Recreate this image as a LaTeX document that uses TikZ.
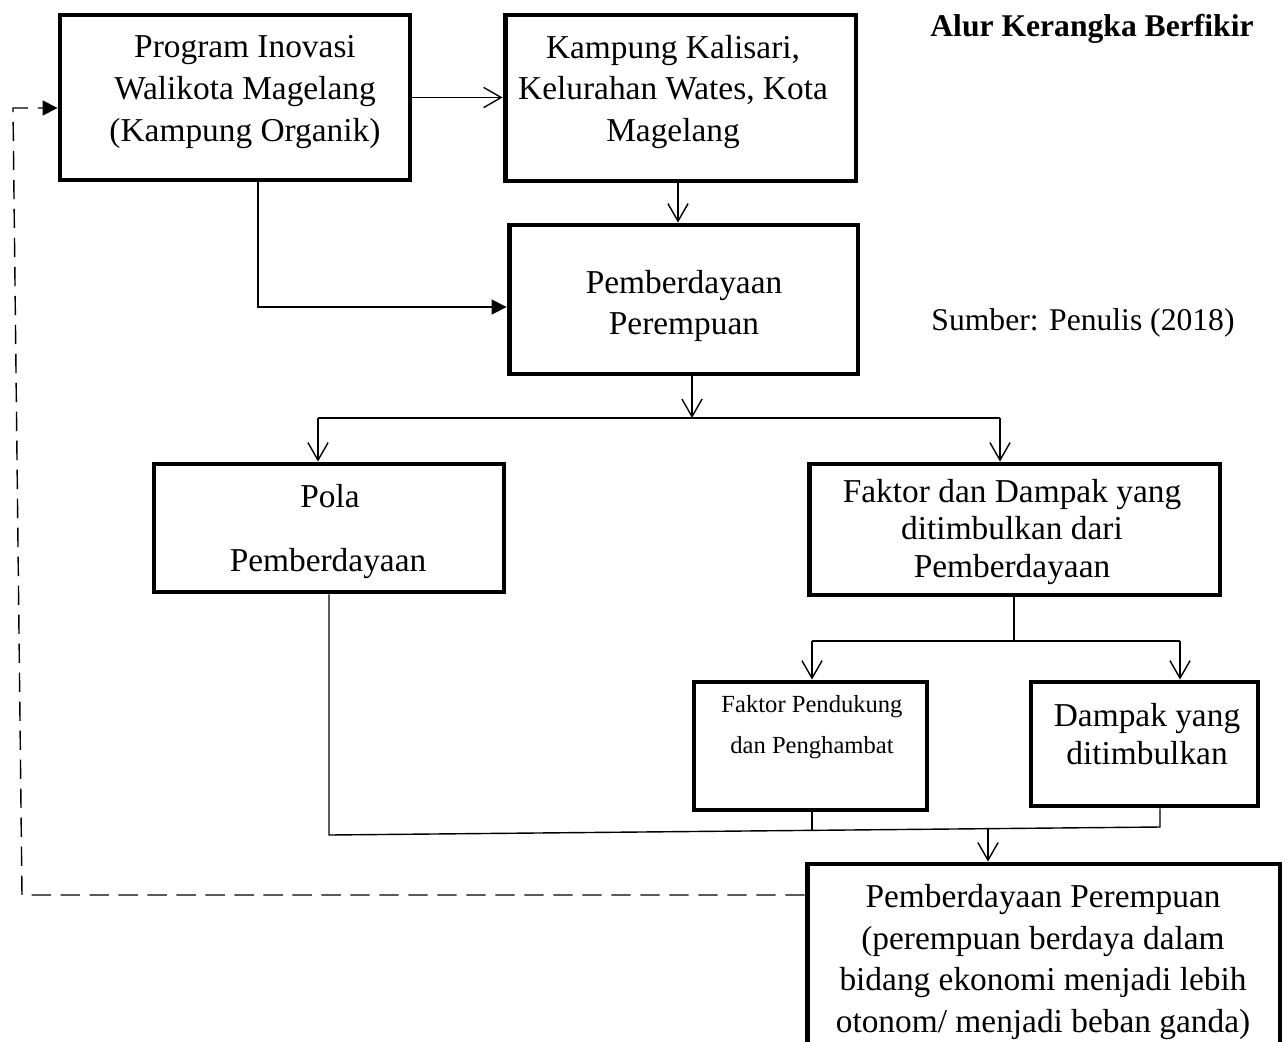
\documentclass[tikz,border=0pt]{standalone}
\usepackage{fontspec}
\setmainfont{Liberation Serif}
\usetikzlibrary{arrows.meta}

\begin{document}
\begin{tikzpicture}[
  x=0.02cm, y=-0.02cm,
  box/.style={draw, line width=2.8pt, inner sep=0pt},
  conn/.style={line width=0.8pt},
  openhead/.style={-{Straight Barb[length=10pt,width=11.5pt,line width=0.8pt]}},
  solidhead/.style={-{Triangle[length=8.5pt,width=8.5pt]}},
  txt/.style={align=center, inner sep=0pt, font=\fontsize{19}{23.8}\selectfont},
  smalltxt/.style={align=center, inner sep=0pt, font=\fontsize{14}{23.2}\selectfont},
  dashline/.style={dash pattern=on 11pt off 5.5pt},
]
\useasboundingbox (0,0) rectangle (1287,1041);

% boxes
\node[box, minimum width=7.00cm, minimum height=3.30cm] (b1) at (235,97.5) {};
\node[box, minimum width=7.02cm, minimum height=3.32cm] (b2) at (680.5,98) {};
\node[box, minimum width=6.98cm, minimum height=2.98cm] (b3) at (683.5,299.5) {};
\node[box, minimum width=7.00cm, minimum height=2.56cm] (b4) at (329,528) {};
\node[box, minimum width=8.22cm, minimum height=2.62cm] (b5) at (1014.5,529.5) {};
\node[box, minimum width=4.66cm, minimum height=2.56cm] (b6) at (810.5,746) {};
\node[box, minimum width=4.54cm, minimum height=2.48cm] (b7) at (1144.5,744) {};
\node[box, minimum width=9.46cm, minimum height=3.68cm] (b8) at (1043.5,956) {};

% box texts
\node[txt] (t1) at (245,92) {Program Inovasi\\Walikota Magelang\\(Kampung Organik)};
\node[txt] (t2) at (673,92) {Kampung Kalisari,\\Kelurahan Wates, Kota\\Magelang};
\node[txt] (t3) at (684,306) {Pemberdayaan\\Perempuan};
\node[txt] (t4a) at (330,496) {Pola};
\node[txt] (t4b) at (328,564) {Pemberdayaan};
\node[txt, font=\fontsize{19}{21.5}\selectfont] (t5) at (1012,532) {Faktor dan Dampak yang\\ditimbulkan dari\\Pemberdayaan};
\node[smalltxt] (t6) at (812,727) {Faktor Pendukung\\dan Penghambat};
\node[txt, font=\fontsize{19}{21.5}\selectfont] (t7) at (1147,734) {Dampak yang\\ditimbulkan};
\node[txt] (t8) at (1043,962) {Pemberdayaan Perempuan\\(perempuan berdaya dalam\\bidang ekonomi menjadi lebih\\otonom/ menjadi beban ganda)};

% free labels
\node[txt, font=\fontsize{18}{22}\selectfont\bfseries] (title) at (1092,29) {Alur Kerangka Berfikir};
\node[txt, font=\fontsize{18}{22}\selectfont] (src) at (1083,323) {Sumber: Penulis (2018)};

% bend and junction points
\coordinate (j1) at (258,307);
\coordinate (s3) at (692,0);
\coordinate (h1) at (692,418);
\coordinate (hL) at (318,418);
\coordinate (hR) at (1000,418);
\coordinate (g) at (1014,641);
\coordinate (gL) at (812,641);
\coordinate (gR) at (1180,641);
\coordinate (m1) at (329,835);
\coordinate (m2) at (1160,827);
\coordinate (k6) at (812,830);
\coordinate (k8) at (988,829);
\coordinate (d1) at (22,895);
\coordinate (d2) at (13,108);

% connectors
\draw[conn, openhead] (b1.east) -- (b1.east -| b2.west);
\draw[conn, openhead] (b2.south -| 678,0) -- (b3.north -| 678,0);
\draw[conn, solidhead] (b1.south -| j1) -- (j1) -- (j1 -| b3.west);
\draw[conn, openhead] (b3.south -| s3) -- (h1);
\draw[conn] (hL) -- (hR);
\draw[conn, openhead] (hL) -- (hL |- b4.north);
\draw[conn, openhead] (hR) -- (hR |- b5.north);
\draw[conn] (b5.south -| g) -- (g);
\draw[conn] (gL) -- (gR);
\draw[conn, openhead] (gL) -- (gL |- b6.north);
\draw[conn, openhead] (gR) -- (gR |- b7.north);
\draw[conn] (b4.south -| m1) -- (m1) -- (m2) -- (m2 |- b7.south);
\draw[conn] (b6.south -| k6) -- (k6);
\draw[conn, openhead] (k8) -- (k8 |- b8.north);
\draw[conn, dashline, solidhead] (b8.west |- d1) -- (d1) -- (d2) -- (d2 -| b1.west);
\end{tikzpicture}
\end{document}
